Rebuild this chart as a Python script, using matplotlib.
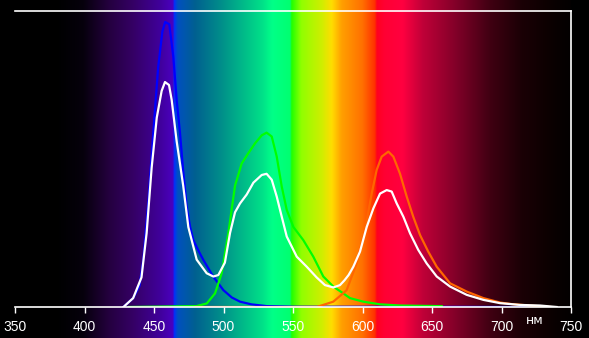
import numpy as np
import matplotlib.pyplot as plt

# длины волн / значения кривых
wl_blue = [428, 435, 439.5, 442.3, 446, 449.5, 453, 456, 458, 461, 463.9, 466.3, 468.7,
           471, 473.5, 476, 478.3, 482, 485.5, 492.7, 499.9, 506, 511.9, 520, 531, 550, 733]
blue = [0.0, 0.03, 0.07, 0.16, 0.36, 0.59, 0.81, 0.93, 0.963, 0.955, 0.845, 0.70, 0.588,
        0.46, 0.339, 0.27, 0.226, 0.19, 0.159, 0.102, 0.057, 0.032, 0.018, 0.009, 0.003, 0.001, 0.0]

wl_green = [432, 480.7, 488, 493.9, 498.7, 503.5, 508.3, 513.1, 517.9, 522.7, 527.5, 531,
            534.7, 538.3, 541.9, 545.5, 550.3, 557.4, 564.6, 571.8, 579, 586.2, 591, 600.6,
            612.6, 627, 657]
green = [0.0, 0.003, 0.012, 0.046, 0.114, 0.25, 0.41, 0.485, 0.52, 0.553, 0.58, 0.589,
         0.576, 0.508, 0.407, 0.328, 0.27, 0.226, 0.17, 0.103, 0.069, 0.046, 0.03, 0.018,
         0.009, 0.005, 0.003]

wl_red = [480, 567, 579, 586, 588.6, 595.8, 601.8, 606.6, 610.2, 613.8, 618.6, 622.2, 627,
          631.8, 636.5, 641.4, 647.3, 653.4, 663, 675, 687, 699, 707, 720, 735]
red = [0.0, 0.0, 0.018, 0.046, 0.057, 0.147, 0.26, 0.383, 0.463, 0.508, 0.525, 0.508, 0.45,
       0.373, 0.305, 0.243, 0.187, 0.136, 0.08, 0.052, 0.03, 0.015, 0.01, 0.005, 0.0]

wl_white = [428, 435, 441, 444.7, 448.3, 452, 455.5, 457.9, 460.8, 462.7, 466.3, 471, 474.7,
            480.7, 487.9, 492.7, 496.3, 501, 504.7, 508.3, 511.9, 516.7, 521.5, 527.5, 531,
            534.7, 538.3, 541.9, 545.5, 552.7, 559.9, 567, 573, 579, 583.8, 587, 590, 593.4,
            598.2, 603, 607.8, 612.6, 617.4, 621, 624.6, 629.4, 634.2, 640.1, 646.2, 653.4,
            663, 675, 687, 699, 713.3, 727.7, 739.7]
white = [0.0, 0.03, 0.10, 0.25, 0.47, 0.64, 0.73, 0.76, 0.75, 0.70, 0.56, 0.41, 0.27,
         0.16, 0.114, 0.103, 0.108, 0.15, 0.25, 0.32, 0.35, 0.38, 0.42, 0.446, 0.45,
         0.43, 0.373, 0.305, 0.238, 0.17, 0.136, 0.10, 0.074, 0.066, 0.074, 0.09, 0.108, 0.136,
         0.187, 0.27, 0.333, 0.383, 0.395, 0.39, 0.35, 0.305, 0.249, 0.193, 0.147, 0.103,
         0.069, 0.041, 0.024, 0.013, 0.007, 0.005, 0.0]

x_ticks = [350, 400, 450, 500, 550, 600, 650, 700, 750]

# цвета фона-спектра
spec_wl = [350, 380, 399, 418, 435, 454, 461, 463.5, 464.5, 467, 479.5, 499, 528, 535, 548, 549,
           556, 571, 578, 585, 600, 609, 610.5, 616, 629, 643.5, 668, 692, 715, 740, 750]
spec_rgb = [(0, 0, 0), (0, 0, 0), (0x06, 0, 0x0c), (0x25, 0, 0x40), (0x35, 0, 0x65),
            (0x40, 0, 0x9a), (0x48, 0, 0xb5), (0x48, 0, 0xc0), (0, 0x30, 0xff), (0, 0x50, 0xc0),
            (0, 0x60, 0x90), (0, 0x90, 0x8a), (0, 0xe0, 0x88), (0, 0xff, 0x88), (0, 0xff, 0x70),
            (0x20, 0xff, 0), (0x90, 0xff, 0), (0xd0, 0xee, 0), (0xff, 0xdd, 0), (0xff, 0xa0, 0),
            (0xff, 0x70, 0), (0xff, 0x30, 0), (0xff, 0, 0x20), (0xff, 0, 0x33), (0xff, 0, 0x40),
            (0xc0, 0, 0x38), (0x80, 0, 0x28), (0x40, 0, 0x12), (0x1a, 0, 0x05), (0x08, 0, 0),
            (0x03, 0, 0)]

fig = plt.figure(figsize=(5.89, 3.38), dpi=100, facecolor='black')
ax = fig.add_axes([15 / 589, 31 / 338, 556 / 589, 296 / 338])
ax.set_facecolor('black')

grid = np.linspace(350, 750, 800)
rgb = np.array(spec_rgb, dtype=float) / 255.0
img = np.stack([np.interp(grid, spec_wl, rgb[:, i]) for i in range(3)], axis=-1)[None, :, :]
ax.imshow(img, extent=[350, 750, -0.11, 1.04], aspect='auto', interpolation='bilinear',
          clip_on=False, zorder=-1)

ax.plot(wl_blue, blue, color='#0000ff', lw=1.6)
ax.plot(wl_green, green, color='#00ff00', lw=1.6)
ax.plot(wl_red, red, color='#ff6600', lw=1.6)
ax.plot(wl_white, white, color='white', lw=1.6)

ax.set_xlim(350, 750)
ax.set_ylim(0, 1)
ax.set_xticks(x_ticks)
ax.set_yticks([])
ax.tick_params(axis='x', colors='white', length=4.5, width=1, pad=5, labelsize=10)
for lab in ax.get_xticklabels():
    lab.set_family(['Liberation Sans Narrow', 'Liberation Sans', 'DejaVu Sans'])
ax.spines['left'].set_visible(False)
for s in ['bottom', 'top', 'right']:
    ax.spines[s].set_color('white')
    ax.spines[s].set_linewidth(1.2)

ax.text(724, -0.045, 'нм', color='white', fontsize=9, ha='center', va='center',
        family=['DejaVu Sans'])

fig.savefig('out.png', dpi=100, facecolor='black')
